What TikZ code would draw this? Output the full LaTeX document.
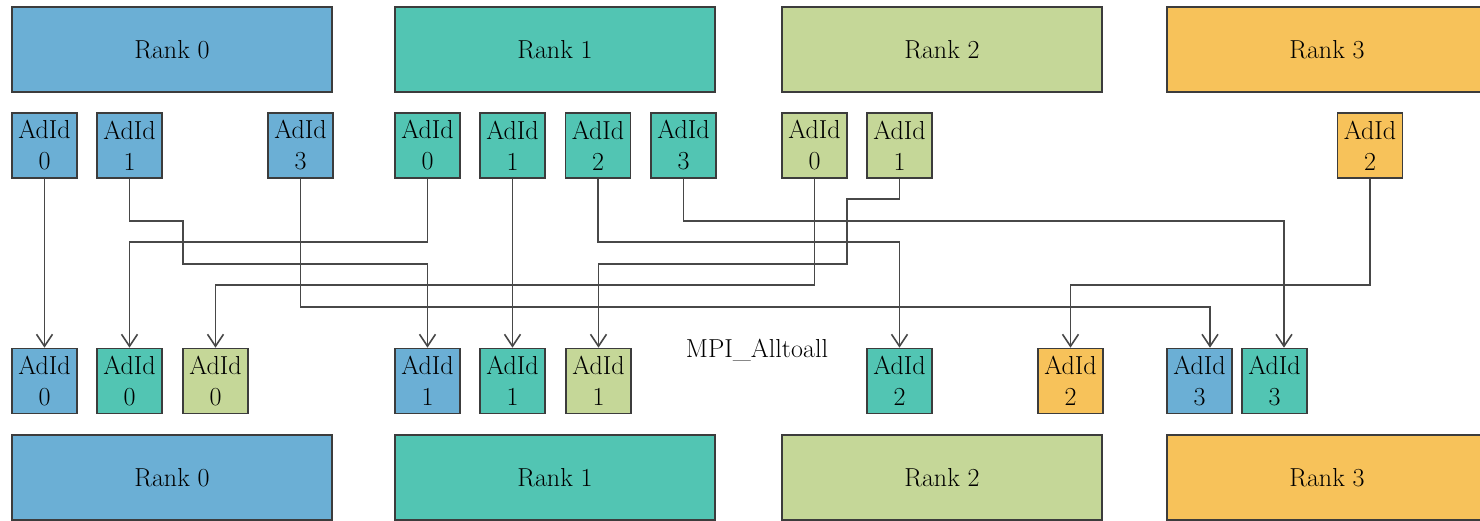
\documentclass[tikz,border=0pt]{standalone}
\usepackage{fontspec}
\usetikzlibrary{arrows.meta}
\definecolor{cblue}{RGB}{107,175,213}
\definecolor{cteal}{RGB}{82,197,179}
\definecolor{cgreen}{RGB}{197,215,152}
\definecolor{corange}{RGB}{247,194,90}
\definecolor{cedge}{RGB}{60,60,60}
\definecolor{cline}{RGB}{72,72,72}
\tikzset{
  rankbox/.style={draw=cedge, line width=1.8pt, minimum width=320pt, minimum height=85pt, inner sep=0pt, font=\fontsize{26}{30}\selectfont},
  sbox/.style={draw=cedge, line width=1.6pt, minimum width=65pt, minimum height=65pt, inner sep=0pt, align=center, font=\fontsize{26}{31}\selectfont},
  conn/.style={draw=cline, line width=1.6pt, -{Straight Barb[length=12pt,width=16pt,line width=1.6pt]}},
}
\begin{document}
\begin{tikzpicture}[x=1pt,y=-1pt]
\useasboundingbox (0,0) rectangle (1480,520);
\clip (0,0) rectangle (1480,520);
% top ranks
\node[rankbox, fill=cblue] (R0) at (172,49.5) {Rank 0};
\node[rankbox, fill=cteal] (R1) at (555,49.5) {Rank 1};
\node[rankbox, fill=cgreen] (R2) at (942,49.5) {Rank 2};
\node[rankbox, fill=corange] (R3) at (1327,49.5) {Rank 3};
% bottom ranks
\node[rankbox, fill=cblue] (S0) at (172,477.5) {Rank 0};
\node[rankbox, fill=cteal] (S1) at (555,477.5) {Rank 1};
\node[rankbox, fill=cgreen] (S2) at (942,477.5) {Rank 2};
\node[rankbox, fill=corange] (S3) at (1327,477.5) {Rank 3};
% top small boxes
\node[sbox, fill=cblue] (a00) at (44.5,145.5) {AdId\\0};
\node[sbox, fill=cblue] (a01) at (129.5,145.5) {AdId\\1};
\node[sbox, fill=cblue] (a03) at (300.5,145.5) {AdId\\3};
\node[sbox, fill=cteal] (a10) at (427.5,145.5) {AdId\\0};
\node[sbox, fill=cteal] (a11) at (512.5,145.5) {AdId\\1};
\node[sbox, fill=cteal] (a12) at (598,145.5) {AdId\\2};
\node[sbox, fill=cteal] (a13) at (683.5,145.5) {AdId\\3};
\node[sbox, fill=cgreen] (a20) at (814.5,145.5) {AdId\\0};
\node[sbox, fill=cgreen] (a21) at (899.5,145.5) {AdId\\1};
\node[sbox, fill=corange] (a32) at (1370,145.5) {AdId\\2};
% bottom small boxes
\node[sbox, fill=cblue] (b00) at (44.5,381) {AdId\\0};
\node[sbox, fill=cteal] (b10) at (129.5,381) {AdId\\0};
\node[sbox, fill=cgreen] (b20) at (215.5,381) {AdId\\0};
\node[sbox, fill=cblue] (b01) at (427.5,381) {AdId\\1};
\node[sbox, fill=cteal] (b11) at (512.5,381) {AdId\\1};
\node[sbox, fill=cgreen] (b21) at (598.5,381) {AdId\\1};
\node[sbox, fill=cteal] (b12) at (899.5,381) {AdId\\2};
\node[sbox, fill=corange] (b32) at (1070.5,381) {AdId\\2};
\node[sbox, fill=cblue] (b03) at (1199.5,381) {AdId\\3};
\node[sbox, fill=cteal] (b13) at (1274.5,381) {AdId\\3};
% label
\node[font=\fontsize{26}{30}\selectfont, inner sep=0pt] (lbl) at (757,350) {MPI\_Alltoall};
% connectors
\draw[conn] (a00.south) -- (b00.north);
\draw[conn] (a01.south) |- (183,221) -- (183,264) -| (b01.north);
\draw[conn] (a03.south) |- (1210,307) -- ([xshift=10.5pt]b03.north);
\draw[conn] (a10.south) |- (129.5,242) -- (b10.north);
\draw[conn] (a11.south) -- (b11.north);
\draw[conn] (a12.south) |- (899.5,242) -- (b12.north);
\draw[conn] (a13.south) |- (1284,221) -- ([xshift=9.5pt]b13.north);
\draw[conn] (a20.south) |- (215.5,285) -- (b20.north);
\draw[conn] (a21.south) |- (847,199) -- (847,264) -| (b21.north);
\draw[conn] (a32.south) |- (1070.5,285) -- (b32.north);
\end{tikzpicture}
\end{document}
